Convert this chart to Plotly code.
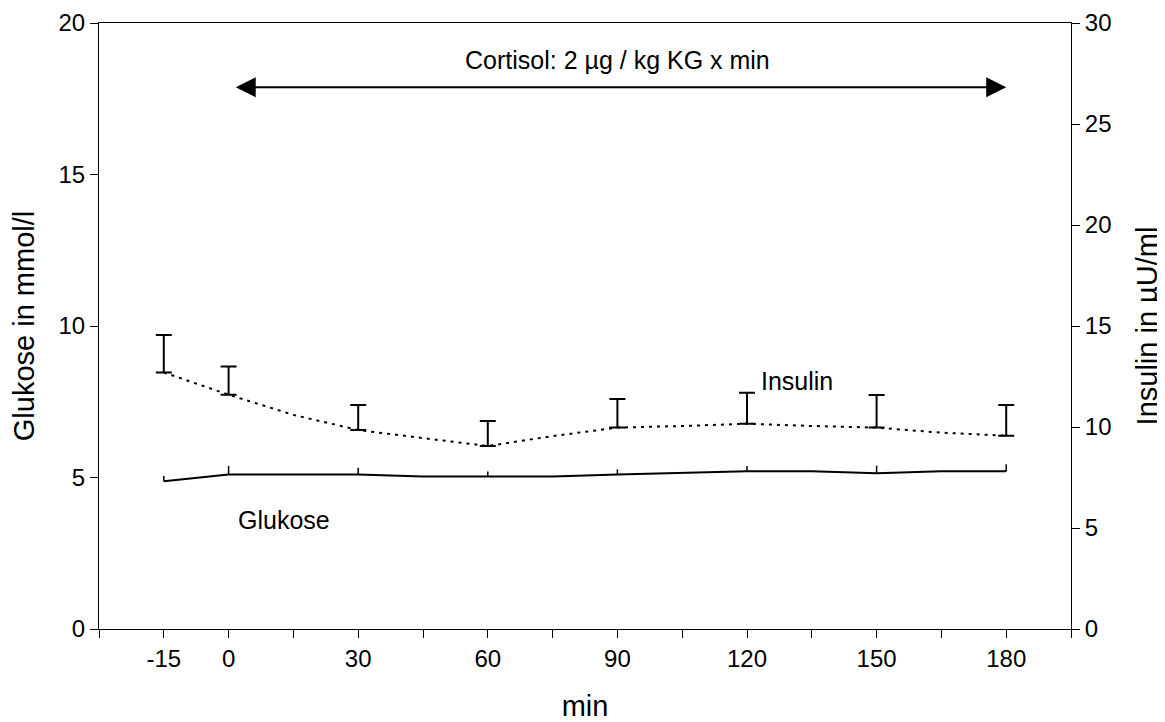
import plotly.graph_objects as go

# time in minutes
minutes = [-15, 0, 15, 30, 45, 60, 75, 90, 105, 120, 135, 150, 165, 180]

# Glukose (mmol/l), left axis
glukose = [4.88, 5.10, 5.10, 5.10, 5.03, 5.03, 5.03, 5.10, 5.16, 5.21, 5.21, 5.14, 5.21, 5.21]

# Insulin (µU/ml), right axis
insulin = [12.7, 11.6, 10.6, 9.85, 9.45, 9.06, 9.55, 9.97, 10.05, 10.16, 10.05, 9.97, 9.72, 9.57]

# error bars (upper only) at the sampling times
err_minutes = [-15, 0, 30, 60, 90, 120, 150, 180]
glukose_sd = [0.17, 0.28, 0.22, 0.17, 0.17, 0.17, 0.25, 0.23]
insulin_sd = [1.85, 1.39, 1.24, 1.24, 1.42, 1.54, 1.61, 1.52]

tick_vals = list(range(-30, 196, 15))
tick_text = ["", "-15", "0", "", "30", "", "60", "", "90", "", "120", "", "150", "", "180", ""]

font = dict(family="Liberation Sans, Arial, sans-serif", size=24, color="black")
ann_font = dict(family="Liberation Sans, Arial, sans-serif", size=25, color="black")

glukose_at = [glukose[minutes.index(m)] for m in err_minutes]
insulin_at = [insulin[minutes.index(m)] for m in err_minutes]

fig = go.Figure()

fig.add_trace(go.Scatter(
    x=minutes, y=glukose, mode="lines", name="Glukose",
    line=dict(color="black", width=2),
))
fig.add_trace(go.Scatter(
    x=err_minutes, y=glukose_at, mode="markers", marker=dict(size=0.1, color="black"),
    error_y=dict(type="data", array=glukose_sd, arrayminus=[0] * len(err_minutes),
                 symmetric=False, color="black", thickness=1.5, width=0),
    hoverinfo="skip",
))

fig.add_trace(go.Scatter(
    x=minutes, y=insulin, mode="lines", name="Insulin", yaxis="y2",
    line=dict(color="black", width=2, dash="3px,5px"),
))
fig.add_trace(go.Scatter(
    x=err_minutes, y=insulin_at, mode="markers", yaxis="y2",
    marker=dict(size=0.1, color="black"),
    error_y=dict(type="data", array=insulin_sd, arrayminus=[0] * len(err_minutes),
                 symmetric=False, color="black", thickness=2, width=8),
    hoverinfo="skip",
))

# Cortisol infusion arrow
fig.add_annotation(x=180, y=17.88, ax=1.3, ay=17.88, xref="x", yref="y",
                   axref="x", ayref="y", text="", showarrow=True,
                   arrowside="end+start", arrowhead=2, startarrowhead=2,
                   arrowsize=2, startarrowsize=2, arrowwidth=2, arrowcolor="black")
fig.add_annotation(x=90, y=18.78, xref="x", yref="y", text="Cortisol: 2 µg / kg KG x min",
                   showarrow=False, font=ann_font)
fig.add_annotation(x=131.5, y=8.2, xref="x", yref="y", text="Insulin",
                   showarrow=False, font=ann_font)
fig.add_annotation(x=12.8, y=3.6, xref="x", yref="y", text="Glukose",
                   showarrow=False, font=ann_font)

fig.update_layout(
    width=1157, height=714,
    margin=dict(l=91, r=94, t=15, b=93),
    paper_bgcolor="white", plot_bgcolor="white",
    showlegend=False,
    font=font,
    xaxis=dict(
        range=[-30, 195], tickmode="array", tickvals=tick_vals, ticktext=tick_text,
        ticks="outside", ticklen=8, tickcolor="black", tickwidth=1,
        showline=True, linecolor="black", linewidth=1, mirror=True,
        showgrid=False, zeroline=False,
        title=dict(text="min", standoff=30), automargin=False,
    ),
    yaxis=dict(
        range=[0, 20], dtick=5, ticks="outside", ticklen=8, tickcolor="black",
        showline=True, linecolor="black", linewidth=1,
        showgrid=False, zeroline=False,
        title=dict(text="Glukose in mmol/l", standoff=18), automargin=False,
    ),
    yaxis2=dict(
        range=[0, 30], dtick=5, overlaying="y", side="right",
        ticks="outside", ticklen=8, tickcolor="black",
        showline=True, linecolor="black", linewidth=1,
        showgrid=False, zeroline=False,
        title=dict(text="Insulin in µU/ml", standoff=26), automargin=False,
    ),
)

fig.write_html("out.html")
